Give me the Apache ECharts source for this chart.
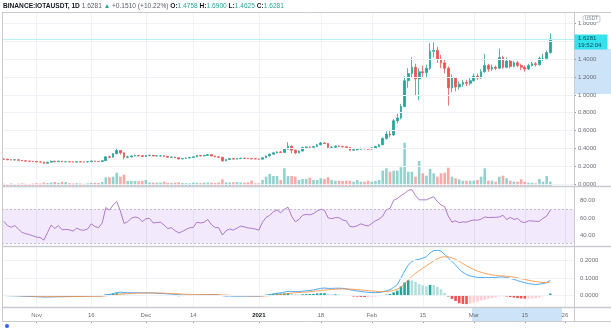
<!DOCTYPE html>
<html><head><meta charset="utf-8">
<script src="https://cdn.jsdelivr.net/npm/echarts@6/dist/echarts.min.js"></script>
<style>html,body{margin:0;padding:0;background:#fff}#c{width:611px;height:329px}</style>
</head><body><div id="c"></div>
<script>
// ---- data ----
const startDate = '2020-10-23';
const endDate = '2021-03-28';
const opens = [
0.280,0.278,0.272,0.270,0.272,0.266,0.260,0.257,0.255,0.252,
0.248,0.246,0.232,0.245,0.256,0.250,0.256,0.249,0.250,0.249,
0.246,0.251,0.248,0.247,0.250,0.258,0.254,0.252,0.262,0.305,
0.300,0.340,0.375,0.350,0.300,0.305,0.315,0.320,0.318,0.310,
0.320,0.322,0.315,0.316,0.316,0.310,0.300,0.302,0.295,0.282,
0.287,0.292,0.297,0.305,0.320,0.315,0.320,0.330,0.315,0.305,
0.300,0.260,0.275,0.285,0.280,0.285,0.290,0.288,0.285,0.284,
0.282,0.279,0.295,0.315,0.335,0.350,0.360,0.355,0.390,0.425,
0.380,0.350,0.370,0.410,0.415,0.412,0.420,0.440,0.460,0.455,
0.410,0.412,0.425,0.422,0.418,0.410,0.380,0.385,0.390,0.400,
0.395,0.392,0.405,0.420,0.440,0.510,0.560,0.550,0.710,0.740,
0.870,1.160,1.240,1.310,1.180,1.260,1.250,1.300,1.490,1.500,
1.400,1.360,1.300,1.080,1.190,1.090,1.120,1.140,1.130,1.160,
1.210,1.190,1.260,1.330,1.290,1.310,1.300,1.420,1.310,1.380,
1.320,1.360,1.330,1.310,1.290,1.330,1.350,1.340,1.410,1.410,
1.4758];
const closes = [
0.278,0.272,0.270,0.272,0.266,0.260,0.257,0.255,0.252,0.248,
0.246,0.232,0.245,0.256,0.250,0.256,0.249,0.250,0.249,0.246,
0.251,0.248,0.247,0.250,0.258,0.254,0.252,0.262,0.305,0.300,
0.340,0.375,0.350,0.300,0.305,0.315,0.320,0.318,0.310,0.320,
0.322,0.315,0.316,0.316,0.310,0.300,0.302,0.295,0.282,0.287,
0.292,0.297,0.305,0.320,0.315,0.320,0.330,0.315,0.305,0.300,
0.260,0.275,0.285,0.280,0.285,0.290,0.288,0.285,0.284,0.282,
0.279,0.295,0.315,0.335,0.350,0.360,0.355,0.390,0.425,0.380,
0.350,0.370,0.410,0.415,0.412,0.420,0.440,0.460,0.455,0.410,
0.412,0.425,0.422,0.418,0.410,0.380,0.385,0.390,0.400,0.395,
0.392,0.405,0.420,0.440,0.510,0.560,0.550,0.710,0.740,0.870,
1.160,1.240,1.310,1.180,1.260,1.250,1.300,1.490,1.500,1.400,
1.360,1.300,1.080,1.190,1.090,1.120,1.140,1.130,1.160,1.210,
1.190,1.260,1.330,1.290,1.310,1.300,1.420,1.310,1.380,1.320,
1.360,1.330,1.310,1.290,1.330,1.350,1.340,1.410,1.410,1.4758,
1.6281];
const highs = [
0.284,0.281,0.276,0.277,0.275,0.269,0.263,0.261,0.259,0.256,
0.252,0.249,0.250,0.262,0.260,0.261,0.259,0.255,0.254,0.252,
0.255,0.254,0.252,0.254,0.262,0.261,0.258,0.266,0.312,0.318,
0.348,0.405,0.380,0.355,0.318,0.322,0.328,0.326,0.322,0.326,
0.330,0.326,0.322,0.322,0.320,0.313,0.308,0.305,0.298,0.292,
0.297,0.302,0.310,0.325,0.326,0.326,0.336,0.334,0.319,0.310,
0.304,0.280,0.290,0.289,0.290,0.294,0.294,0.292,0.290,0.288,
0.286,0.299,0.320,0.342,0.360,0.368,0.368,0.400,0.470,0.432,
0.386,0.378,0.418,0.424,0.422,0.428,0.448,0.472,0.468,0.460,
0.425,0.435,0.432,0.428,0.423,0.414,0.392,0.398,0.408,0.406,
0.401,0.412,0.428,0.448,0.525,0.590,0.600,0.730,0.790,0.900,
1.210,1.300,1.420,1.350,1.300,1.330,1.340,1.580,1.590,1.540,
1.450,1.400,1.320,1.230,1.200,1.150,1.170,1.170,1.190,1.240,
1.240,1.290,1.460,1.350,1.340,1.330,1.520,1.440,1.420,1.400,
1.380,1.380,1.350,1.330,1.350,1.370,1.370,1.430,1.460,1.500,
1.6900];
const lows = [
0.274,0.268,0.266,0.266,0.262,0.256,0.253,0.251,0.248,0.244,
0.241,0.226,0.229,0.242,0.246,0.247,0.245,0.245,0.245,0.242,
0.243,0.245,0.243,0.244,0.247,0.250,0.248,0.250,0.259,0.290,
0.296,0.335,0.330,0.275,0.288,0.298,0.310,0.310,0.304,0.306,
0.314,0.310,0.309,0.310,0.305,0.296,0.295,0.290,0.276,0.278,
0.283,0.288,0.293,0.301,0.310,0.311,0.316,0.310,0.300,0.294,
0.250,0.255,0.270,0.275,0.276,0.281,0.283,0.281,0.276,0.278,
0.274,0.276,0.292,0.311,0.330,0.344,0.348,0.350,0.385,0.345,
0.335,0.344,0.365,0.404,0.405,0.407,0.415,0.435,0.448,0.400,
0.400,0.406,0.414,0.410,0.402,0.372,0.373,0.378,0.384,0.388,
0.385,0.388,0.400,0.415,0.435,0.500,0.525,0.540,0.680,0.725,
0.860,1.080,1.200,1.000,0.940,1.190,1.200,1.280,1.420,1.360,
1.300,1.240,0.880,1.030,1.040,1.060,1.090,1.100,1.110,1.150,
1.170,1.180,1.250,1.260,1.270,1.280,1.290,1.290,1.300,1.300,
1.310,1.310,1.280,1.260,1.280,1.320,1.320,1.330,1.380,1.400,
1.4625];
const volumes = [
2.2,2.0,2.5,2.0,2.3,2.6,2.2,2.0,2.4,2.8,
2.5,3.5,3.0,3.5,4.0,3.2,4.2,4.0,2.8,2.5,
2.8,2.5,2.2,2.6,3.0,3.2,3.0,4.0,8.7,8.7,
9.3,13.3,9.3,11.3,5.0,5.0,5.0,4.8,5.2,6.0,
3.5,3.3,3.3,3.5,4.3,3.3,3.0,3.5,3.7,3.0,
2.8,2.7,3.3,3.3,3.0,3.3,3.5,3.3,3.0,3.5,
6.7,3.7,3.5,3.7,4.0,3.5,3.3,3.7,5.3,2.7,
2.7,6.0,9.3,12.0,10.0,10.0,6.0,17.7,10.0,10.0,
9.3,6.0,7.0,7.0,8.3,6.0,6.0,7.7,7.0,8.7,
6.0,5.3,5.3,5.0,5.3,5.3,4.3,6.0,4.3,4.3,
5.3,4.3,5.0,6.0,15.3,17.7,14.3,15.3,15.3,18.7,
43.3,14.3,14.3,9.3,25.0,12.7,10.3,17.0,12.7,9.3,
12.7,13.3,18.3,9.3,7.7,6.7,5.3,5.3,5.3,5.3,
6.0,9.3,17.7,5.3,5.3,4.3,9.3,10.3,7.7,5.3,
4.3,4.3,6.7,4.3,3.3,3.3,2.7,7.0,4.3,10.0,
4.3];
const rsi = [
56,51,49,51,47,43,41.5,40.5,39,37.5,
37,34,43,51.6,47.6,51,46,46.5,46,44.5,
48,46,45.5,47,53,50,48.5,54,72,69,
75,79,68,53.5,55.5,59.5,61,60,55.5,59,
59.4,54,54.5,55,51.6,47.5,48.5,45,42.5,44,
46.5,48.4,48.8,55,54,55,58,52,48.8,48.4,
40,45,47,45.7,48,50.4,49.5,48.3,47.8,47,
45.7,55,60.5,63,67,69.2,66,70,72.5,62,
55.5,58,63,64,63.5,65,68,70,69,60,
59,60.2,60.2,57.5,56.5,50,49.5,50.8,53,51.5,
50.5,53.5,56.5,58.5,62,69.5,71,80.5,82.5,86,
88.5,92,93,86,81,81,81,83,84.5,79,
75,73,62,55,56.5,54.5,55.2,55,56.5,57.5,
57.2,58.5,61,60.3,60.5,60.6,61,63,58,60.5,
58.2,59.2,55.5,54.5,56.5,56.4,56,56,59.5,62,
69];
const macdLine = [
-0.001,-0.002,-0.003,-0.003,-0.004,-0.005,-0.006,-0.007,-0.007,-0.008,
-0.009,-0.010,-0.010,-0.009,-0.009,-0.008,-0.008,-0.007,-0.007,-0.007,
-0.006,-0.006,-0.006,-0.005,-0.004,-0.004,-0.004,-0.003,0.002,0.005,
0.010,0.016,0.018,0.016,0.015,0.015,0.015,0.015,0.014,0.014,
0.014,0.013,0.012,0.011,0.010,0.008,0.007,0.005,0.003,0.002,
0.001,0.001,0.001,0.002,0.003,0.003,0.004,0.004,0.003,0.002,
-0.002,-0.004,-0.004,-0.005,-0.005,-0.005,-0.005,-0.005,-0.005,-0.005,
-0.005,-0.003,0.000,0.004,0.008,0.012,0.014,0.018,0.023,0.023,
0.021,0.021,0.024,0.026,0.028,0.031,0.036,0.040,0.042,0.040,
0.040,0.041,0.041,0.040,0.037,0.032,0.028,0.025,0.022,0.019,
0.017,0.016,0.015,0.016,0.020,0.026,0.032,0.045,0.062,0.100,
0.140,0.175,0.195,0.204,0.208,0.215,0.223,0.245,0.258,0.260,
0.255,0.237,0.215,0.195,0.175,0.150,0.133,0.120,0.112,0.107,
0.104,0.103,0.102,0.102,0.102,0.103,0.106,0.106,0.103,0.098,
0.092,0.085,0.078,0.073,0.068,0.064,0.062,0.064,0.068,0.073,
0.087];
const signalLine = [
0.000,-0.001,-0.001,-0.002,-0.002,-0.003,-0.004,-0.004,-0.005,-0.006,
-0.006,-0.007,-0.008,-0.008,-0.008,-0.008,-0.008,-0.008,-0.008,-0.007,
-0.007,-0.007,-0.006,-0.006,-0.006,-0.005,-0.005,-0.005,-0.003,-0.001,
0.001,0.004,0.007,0.009,0.010,0.011,0.012,0.013,0.013,0.013,
0.014,0.014,0.013,0.013,0.012,0.011,0.010,0.009,0.008,0.007,
0.006,0.005,0.004,0.004,0.004,0.004,0.004,0.004,0.004,0.003,
0.002,0.001,0.000,-0.001,-0.002,-0.002,-0.003,-0.003,-0.004,-0.004,
-0.004,-0.004,-0.003,-0.002,0.000,0.002,0.004,0.007,0.010,0.013,
0.015,0.016,0.018,0.019,0.021,0.023,0.025,0.028,0.030,0.032,
0.034,0.035,0.036,0.037,0.037,0.036,0.035,0.033,0.031,0.029,
0.027,0.025,0.023,0.021,0.021,0.022,0.024,0.028,0.035,0.048,
0.066,0.088,0.109,0.127,0.143,0.157,0.170,0.185,0.199,0.211,
0.220,0.223,0.222,0.216,0.208,0.196,0.183,0.171,0.159,0.149,
0.140,0.133,0.127,0.122,0.118,0.115,0.113,0.112,0.110,0.108,
0.105,0.101,0.096,0.092,0.087,0.083,0.079,0.076,0.074,0.074,
0.077];
const macdHist = [
-0.001,-0.001,-0.002,-0.001,-0.002,-0.002,-0.002,-0.003,-0.002,-0.002,
-0.003,-0.003,-0.002,-0.001,-0.001,0.000,0.000,0.001,0.001,0.000,
0.001,0.001,0.000,0.001,0.002,0.001,0.001,0.002,0.005,0.006,
0.009,0.012,0.011,0.007,0.005,0.004,0.003,0.002,0.001,0.001,
0.000,-0.001,-0.001,-0.002,-0.002,-0.003,-0.003,-0.004,-0.005,-0.005,
-0.005,-0.004,-0.003,-0.002,-0.001,-0.001,0.000,0.000,-0.001,-0.001,
-0.004,-0.005,-0.004,-0.004,-0.003,-0.003,-0.002,-0.002,-0.001,-0.001,
-0.001,0.001,0.003,0.006,0.008,0.010,0.010,0.011,0.013,0.010,
0.006,0.005,0.006,0.007,0.007,0.008,0.011,0.012,0.012,0.008,
0.006,0.006,0.005,0.003,0.000,-0.004,-0.007,-0.008,-0.009,-0.010,
-0.010,-0.009,-0.008,-0.005,-0.001,0.004,0.008,0.017,0.027,0.052,
0.074,0.087,0.086,0.077,0.065,0.058,0.053,0.060,0.059,0.049,
0.035,0.014,-0.007,-0.021,-0.033,-0.046,-0.050,-0.051,-0.047,-0.042,
-0.036,-0.030,-0.025,-0.020,-0.016,-0.012,-0.007,-0.006,-0.007,-0.010,
-0.013,-0.016,-0.018,-0.019,-0.019,-0.019,-0.017,-0.012,-0.006,-0.001,
0.010];
const tickDates = ['2020-11-01','2020-11-16','2020-12-01','2020-12-14','2021-01-01','2021-01-18','2021-02-01','2021-02-15','2021-03-01','2021-03-15','2021-03-26'];
const tickTexts = ['Nov','16','Dec','14','2021','18','Feb','15','Mar','15','26'];
const priceLabels = [0,0.2,0.4,0.6,0.8,1.0,1.2,1.4,1.6,1.8];
const rsiLabels = [40,60,80];
const macdLabels = [0,0.1,0.2];
const lastPrice = 1.6281;

// ---- build ----
const cats = [];
for (let d = Date.parse(startDate + 'T00:00:00Z'); d <= Date.parse(endDate + 'T00:00:00Z'); d += 86400000) {
  cats.push(new Date(d).toISOString().slice(0, 10));
}
const UP = '#26a69a', DOWN = '#ef5350';
const FONT = 'Liberation Sans';
const labelCol = '#6a6d78';
const gridCol = '#eef1f5';
const isTick = (idx, val) => tickDates.indexOf(val) >= 0;
const fmtTime = (val) => {
  const k = tickDates.indexOf(val);
  if (k < 0) return '';
  return tickTexts[k] === '2021' ? '{b|2021}' : tickTexts[k];
};
const near = (v, arr) => arr.some(a => Math.abs(a - v) < 1e-6);

const ohlc = opens.map((o, i) => [o, closes[i], lows[i], highs[i]]);
const volData = volumes.map((v, i) => ({
  value: v,
  itemStyle: { color: closes[i] >= opens[i] ? 'rgba(38,166,154,0.5)' : 'rgba(239,83,80,0.5)' }
}));
const histData = macdHist.map((h, i) => {
  const p = i > 0 ? macdHist[i - 1] : h;
  let c;
  if (h >= 0) c = h >= p ? '#26a69a' : '#b2dfdb';
  else c = h < p ? '#ef5350' : '#ffcdd2';
  return { value: h, itemStyle: { color: c } };
});

const L = 2, R = 37;
const vSplit = { show: true, interval: isTick, alignWithLabel: true, lineStyle: { color: gridCol, width: 1 } };
const baseX = (gi, extra) => Object.assign({
  type: 'category', gridIndex: gi, data: cats, boundaryGap: true,
  axisLine: { show: false }, axisTick: { show: false }, axisLabel: { show: false },
  splitLine: vSplit
}, extra || {});

const sepCol = '#c9cbd1';
const hline = (y, w) => ({ type: 'line', z: 15, shape: { x1: 2, y1: y, x2: 611, y2: y }, style: { stroke: sepCol, lineWidth: w || 1 } });
const priceLineStyle = { color: '#b8f1f5', type: 'solid', width: 1, opacity: 1 };

const option = {
  animation: false,
  backgroundColor: '#ffffff',
  textStyle: { fontFamily: FONT },
  grid: [
    { left: L, right: R, top: 12, height: 172, outerBoundsMode: 'none' },
    { left: L, right: R, top: 12, height: 174, outerBoundsMode: 'none' },
    { left: L, right: R, top: 183.55, height: 68.6, outerBoundsMode: 'none' },
    { left: L, right: R, top: 243.4, height: 69.2, outerBoundsMode: 'none' },
    { left: L, right: R, top: 307, height: 14, outerBoundsMode: 'none' }
  ],
  xAxis: [
    baseX(0),
    baseX(1, { splitLine: { show: false } }),
    baseX(2),
    baseX(3),
    baseX(4, {
      position: 'top', splitLine: { show: false }, z: 10,
      axisTick: { show: true, inside: true, length: 2, interval: isTick, alignWithLabel: true, lineStyle: { color: '#9598a1' } },
      axisLabel: { show: true, inside: true, margin: 5, interval: isTick, formatter: fmtTime, fontSize: 6, color: labelCol, fontFamily: FONT,
        rich: { b: { fontWeight: 'bold', fontSize: 6, color: '#131722', fontFamily: FONT } } }
    })
  ],
  yAxis: [
    { type: 'value', gridIndex: 0, position: 'right', min: 0, max: 1.931, interval: 0.2, z: 10,
      axisLine: { show: false },
      axisTick: { show: true, length: 2, lineStyle: { color: '#9598a1' } },
      axisLabel: { fontSize: 6, color: labelCol, margin: 4, fontFamily: FONT, showMaxLabel: false,
        formatter: v => near(v, priceLabels) ? v.toFixed(4) : '' },
      splitLine: { show: true, lineStyle: { color: gridCol, width: 1 } } },
    { type: 'value', gridIndex: 1, min: 0, max: 174, show: false, splitLine: { show: false } },
    { type: 'value', gridIndex: 2, position: 'right', min: 20, max: 100, interval: 20, z: 10,
      axisLine: { show: false }, axisTick: { show: false }, splitLine: { show: false },
      axisLabel: { fontSize: 6, color: labelCol, margin: 6, fontFamily: FONT,
        formatter: v => near(v, rsiLabels) ? v.toFixed(2) : '' } },
    { type: 'value', gridIndex: 3, position: 'right', min: -0.1, max: 0.3, interval: 0.1, z: 10,
      axisLine: { show: false }, axisTick: { show: false }, splitLine: { show: false },
      axisLabel: { fontSize: 6, color: labelCol, margin: 6, fontFamily: FONT,
        formatter: v => near(v, macdLabels) ? v.toFixed(4) : '' } },
    { type: 'value', gridIndex: 4, min: 0, max: 1, show: false }
  ],
  series: [
    { type: 'bar', xAxisIndex: 1, yAxisIndex: 1, data: volData, barWidth: 2.6, z: 1 },
    { type: 'candlestick', xAxisIndex: 0, yAxisIndex: 0, data: ohlc, barWidth: 2.2, z: 3,
      itemStyle: { color: UP, color0: DOWN, borderColor: UP, borderColor0: DOWN, borderWidth: 0.8 },
      markLine: { silent: true, symbol: ['none', 'none'], label: { show: false },
        lineStyle: priceLineStyle, emphasis: { disabled: true },
        data: [{ yAxis: lastPrice, lineStyle: priceLineStyle }] } },
    { type: 'line', xAxisIndex: 2, yAxisIndex: 2, data: rsi, symbol: 'none', z: 3,
      lineStyle: { color: '#9c5cc0', width: 0.8 },
      markArea: { silent: true, itemStyle: { color: 'rgba(149,76,233,0.12)' }, data: [[{ yAxis: 30 }, { yAxis: 70 }]] },
      markLine: { silent: true, symbol: ['none', 'none'], label: { show: false },
        lineStyle: { color: '#b9adc6', type: [2, 2], width: 0.8 }, data: [{ yAxis: 30 }, { yAxis: 70 }] } },
    { type: 'bar', xAxisIndex: 3, yAxisIndex: 3, data: histData, barWidth: 2.6, z: 2,
      markLine: { silent: true, symbol: ['none', 'none'], label: { show: false },
        lineStyle: { color: gridCol, type: 'solid', width: 1 }, data: macdLabels.map(v => ({ yAxis: v })) } },
    { type: 'line', xAxisIndex: 3, yAxisIndex: 3, data: macdLine, symbol: 'none', z: 4,
      lineStyle: { color: '#2196f3', width: 0.8 } },
    { type: 'line', xAxisIndex: 3, yAxisIndex: 3, data: signalLine, symbol: 'none', z: 4,
      lineStyle: { color: '#ff8a33', width: 0.8 } }
  ],
  graphic: [
    { type: 'rect', z: 1, silent: true, shape: { x: 2.5, y: 307.5, width: 571.5, height: 13.5 }, style: { fill: '#ffffff' } },
    { type: 'rect', z: 2, silent: true, shape: { x: 472, y: 307.5, width: 90, height: 13.5 }, style: { fill: '#cde3f8' } },
    { type: 'rect', z: 2, silent: true, shape: { x: 574.5, y: 49, width: 36.5, height: 45 }, style: { fill: '#cde3f8' } },
    hline(12.5), hline(186.5, 1.3), hline(246.5, 1.3), hline(307.5, 1.3), hline(321.5),
    { type: 'line', z: 15, shape: { x1: 2.5, y1: 12, x2: 2.5, y2: 322 }, style: { stroke: sepCol, lineWidth: 1 } },
    { type: 'line', z: 15, shape: { x1: 574.5, y1: 12, x2: 574.5, y2: 322 }, style: { stroke: sepCol, lineWidth: 1 } },
    { type: 'rect', z: 20, silent: true, shape: { x: 574.5, y: 34.5, width: 33, height: 15 }, style: { fill: '#33e2ec' } },
    { type: 'text', z: 21, silent: true, x: 578, y: 35.5, style: { text: '1.6281', fontSize: 6, fontFamily: FONT, fill: '#0c4d5a' } },
    { type: 'text', z: 21, silent: true, x: 578, y: 42, style: { text: '19:52:04', fontSize: 6, fontFamily: FONT, fill: '#0c4d5a' } },
    { type: 'rect', z: 20, silent: true, shape: { x: 583, y: 15.5, width: 17, height: 7, r: 2 }, style: { fill: '#ffffff', stroke: '#b2b5be', lineWidth: 0.7 } },
    { type: 'text', z: 21, silent: true, x: 591.5, y: 19, style: { text: 'USDT', fontSize: 5, fontFamily: FONT, fill: '#787b86', align: 'center', verticalAlign: 'middle' } },
    { type: 'circle', z: 21, silent: true, shape: { cx: 7, cy: 326, r: 2 }, style: { fill: '#2962ff' } },
    { type: 'text', z: 21, silent: true, x: 3, y: 2.3, style: {
      text: '{b|BINANCE:IOTAUSDT, 1D} {n|1.6281} {g|▲} {n|+0.1510 (+10.22%)} {k|O:}{g|1.4758} {k|H:}{g|1.6900} {k|L:}{g|1.4625} {k|C:}{g|1.6281}',
      fontSize: 6.6, fontFamily: FONT, fill: '#131722',
      rich: {
        b: { fontWeight: 'bold', fontSize: 6.6, fontFamily: FONT, fill: '#131722' },
        n: { fontSize: 6.6, fontFamily: FONT, fill: '#5d606b' },
        g: { fontSize: 6.6, fontFamily: FONT, fill: '#26a69a' },
        k: { fontWeight: 'bold', fontSize: 6.6, fontFamily: FONT, fill: '#131722' }
      } } }
  ]
};
const chart = echarts.init(document.getElementById('c'), null, { renderer: 'canvas' });
chart.setOption(option);
</script>
</body></html>
